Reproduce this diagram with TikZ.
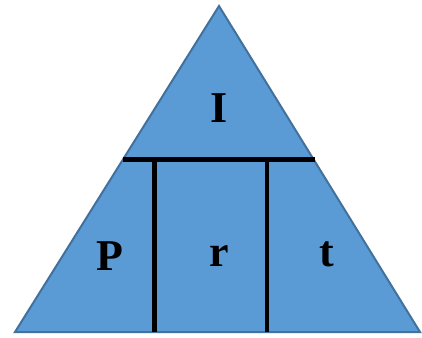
\documentclass[tikz,border=0pt]{standalone}
\usepackage{fontspec}
\setmainfont{Liberation Serif}
\definecolor{fillblue}{HTML}{5B9BD5}
\definecolor{edgeblue}{HTML}{41719C}
\begin{document}
\begin{tikzpicture}[x=1pt,y=1pt,
  tri/.style={fill=fillblue,draw=edgeblue,line width=2pt,line join=miter},
  divider/.style={black,line width=4.5pt},
  lbl/.style={anchor=base,inner sep=0pt,font=\fontsize{44}{50}\selectfont\bfseries}]
\useasboundingbox (0,0) rectangle (422,337);
\coordinate (apex) at (219,331);
\coordinate (bl) at (15,5);
\coordinate (br) at (420,5);
\draw[tri] (bl) -- (apex) -- (br) -- cycle;
\coordinate (hl) at (123,177.5);
\coordinate (hr) at (315,177.5);
\coordinate (v1t) at (154.6,177.5);
\coordinate (v1b) at (154.6,5);
\coordinate (v2t) at (267,177.5);
\coordinate (v2b) at (267,5);
\draw[divider] (hl) -- (hr);
\draw[divider] (v1t) -- (v1b);
\draw[divider] (v2t) -- (v2b);
\node[lbl] (I) at (218.7,214.3) {I};
\node[lbl] (P) at (110,66.3) {P};
\node[lbl] (r) at (219.5,70.3) {r};
\node[lbl] (t) at (326.5,70.5) {t};
\end{tikzpicture}
\end{document}
